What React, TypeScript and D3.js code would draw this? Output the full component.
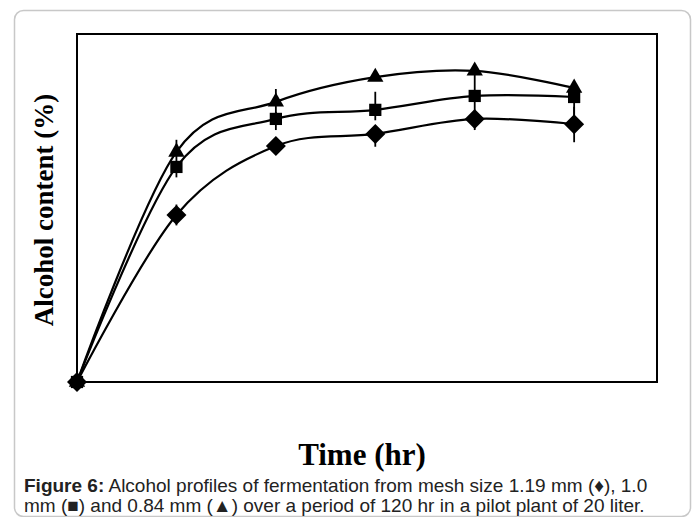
import { useEffect, useRef } from 'react';
import * as d3 from 'd3';

const W = 696, H = 517;
const M = { left: 77, top: 34, right: 657, bottom: 382 };

// time points (hr)
const hours = [0, 24, 48, 72, 96, 120];

// alcohol content (%)
const mesh119 = [0, 4.8, 6.78, 7.13, 7.56, 7.41];
const mesh100 = [0, 6.18, 7.56, 7.82, 8.22, 8.19];
const mesh084 = [0, 6.61, 8.05, 8.76, 8.94, 8.45];

// error bar lengths (plus / minus)
const err119Plus = [0, 0.3, 0, 0, 0, 0.5];
const err119Minus = [0, 0.3, 0, 0.37, 0.32, 0.52];
const err100Plus = [0, 0, 0.2, 0.52, 0, 0];
const err100Minus = [0, 0.3, 0.32, 0.3, 0.7, 0.78];
const err084Plus = [0, 0.35, 0.37, 0, 0, 0];
const err084Minus = [0, 0.35, 0.37, 0, 0.72, 0.25];

const series = [
  { name: '1.19 mm', values: mesh119, plus: err119Plus, minus: err119Minus, symbol: 'diamond' },
  { name: '1.0 mm', values: mesh100, plus: err100Plus, minus: err100Minus, symbol: 'square' },
  { name: '0.84 mm', values: mesh084, plus: err084Plus, minus: err084Minus, symbol: 'triangle' },
];

export default function App() {
  const svgRef = useRef<SVGSVGElement>(null);

  useEffect(() => {
    const svg = d3.select(svgRef.current);
    svg.selectAll('*').remove();

    // card
    svg.append('rect')
      .attr('x', 14.5).attr('y', 10.5)
      .attr('width', 676).attr('height', 506)
      .attr('rx', 9)
      .attr('fill', '#fff')
      .attr('stroke', '#c8c8c8')
      .attr('stroke-width', 1.5);

    const x = d3.scaleLinear().domain([0, 140]).range([M.left, M.right]);
    const y = d3.scaleLinear().domain([0, 10]).range([M.bottom, M.top]);

    // plot frame
    svg.append('rect')
      .attr('x', M.left).attr('y', M.top)
      .attr('width', M.right - M.left).attr('height', M.bottom - M.top)
      .attr('fill', 'none')
      .attr('stroke', '#000')
      .attr('stroke-width', 2);

    const line = d3.line<number>()
      .x((_, i) => x(hours[i]))
      .y((d) => y(d))
      .curve(d3.curveCardinal.tension(0));

    const g = svg.append('g');

    series.forEach((s) => {
      g.append('path')
        .attr('d', line(s.values))
        .attr('fill', 'none')
        .attr('stroke', '#000')
        .attr('stroke-width', 2.2);
    });

    // error bars
    series.forEach((s) => {
      s.values.forEach((v, i) => {
        if (!s.plus[i] && !s.minus[i]) return;
        g.append('line')
          .attr('x1', x(hours[i])).attr('x2', x(hours[i]))
          .attr('y1', y(v + s.plus[i])).attr('y2', y(v - s.minus[i]))
          .attr('stroke', '#000')
          .attr('stroke-width', 1.8);
      });
    });

    // markers
    const shapes: Record<string, string> = {
      diamond: d3.symbol(d3.symbolSquare, 200)() as string,
      square: d3.symbol(d3.symbolSquare, 150)() as string,
      triangle: d3.symbol(d3.symbolTriangle, 115)() as string,
    };
    series.forEach((s) => {
      g.selectAll(null)
        .data(s.values)
        .join('path')
        .attr('d', shapes[s.symbol])
        .attr('transform', (d, i) =>
          `translate(${x(hours[i])},${y(d)})${s.symbol === 'diamond' ? ' rotate(45)' : ''}`)
        .attr('fill', '#000');
    });

    // axis titles
    svg.append('text')
      .attr('transform', `translate(53,${(M.top + M.bottom) / 2 + 2}) rotate(-90)`)
      .attr('text-anchor', 'middle')
      .attr('font-family', '"Liberation Serif", "Times New Roman", serif')
      .attr('font-weight', 'bold')
      .attr('font-size', 27)
      .text('Alcohol content (%)');

    svg.append('text')
      .attr('x', 362)
      .attr('y', 465)
      .attr('text-anchor', 'middle')
      .attr('font-family', '"Liberation Serif", "Times New Roman", serif')
      .attr('font-weight', 'bold')
      .attr('font-size', 31)
      .text('Time (hr)');

    // caption
    const cap = svg.append('text')
      .attr('font-family', '"Liberation Sans", Arial, sans-serif')
      .attr('font-size', 19)
      .attr('fill', '#222');
    const l1 = cap.append('tspan').attr('x', 24).attr('y', 492);
    l1.append('tspan').attr('font-weight', 'bold').text('Figure 6:');
    l1.append('tspan').text(' Alcohol profiles of fermentation from mesh size 1.19 mm (\u2666), 1.0');
    cap.append('tspan').attr('x', 24).attr('y', 512)
      .text('mm (\u25A0) and 0.84 mm (\u25B2) over a period of 120 hr in a pilot plant of 20 liter.');
  }, []);

  return (
    <svg
      ref={svgRef}
      width={W}
      height={H}
      style={{ position: 'absolute', left: 0, top: 0, background: '#fff' }}
    />
  );
}
